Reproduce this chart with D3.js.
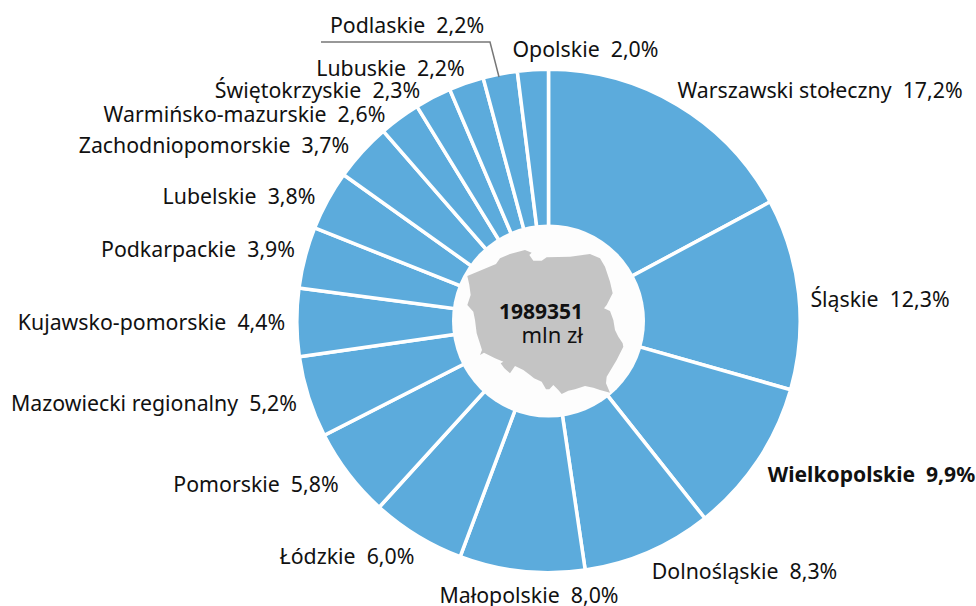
<!DOCTYPE html>
<html><head><meta charset="utf-8">
<script src="https://cdn.jsdelivr.net/npm/d3@7"></script>
<style>html,body{margin:0;padding:0;background:#fff}svg{display:block}text{font-family:"Noto Sans",sans-serif;white-space:pre;fill:#111}</style>
</head><body><div id="c"></div>
<script>
const regions=["Warszawski stołeczny","Śląskie","Wielkopolskie","Dolnośląskie","Małopolskie","Łódzkie","Pomorskie","Mazowiecki regionalny","Kujawsko-pomorskie","Podkarpackie","Lubelskie","Zachodniopomorskie","Warmińsko-mazurskie","Świętokrzyskie","Lubuskie","Podlaskie","Opolskie"];
const shares=[17.16,12.26,9.94,8.34,8.04,6.04,5.76,5.24,4.36,3.94,3.84,3.74,2.64,2.34,2.24,2.2,1.98];
const highlighted=["Wielkopolskie"];
const total="1989351", unit="mln zł";
const labelCenterX=[820,880,871.5,744.5,529,347,256,154,151.5,198,239,214,244.5,317.5,390.5,407,585.5];
const labelCenterY=[90,299,474,571,595,556,484,403,322,249,196,145,114,90,68,25,49];
const polandOutline=[[82,138],[125,120],[168,102],[180,85],[210,72],[255,60],[275,68],[268,75],[280,92],[305,92],[320,82],[390,80],[450,72],[480,85],[495,110],[510,155],[518,190],[500,225],[492,235],[510,243],[520,270],[525,300],[535,320],[548,340],[550,350],[530,390],[500,440],[498,460],[510,488],[480,480],[460,473],[435,468],[405,478],[385,482],[365,492],[355,480],[340,465],[328,478],[318,478],[305,455],[282,445],[270,435],[250,420],[225,408],[210,430],[193,415],[182,400],[190,395],[165,385],[132,368],[120,375],[126,360],[110,310],[105,270],[100,245],[82,225],[92,195],[88,165]];

const W=976,H=606,cx=548.5,cy=321,R=251.7,r=96.5;
const svg=d3.select("#c").append("svg").attr("width",W).attr("height",H);
const pie=d3.pie().sort(null).value(d=>d)(shares);
const arc=d3.arc().innerRadius(r-10).outerRadius(R);
const g=svg.append("g").attr("transform",`translate(${cx},${cy})`);
g.selectAll("path").data(pie).join("path").attr("d",arc).attr("fill","#5cabdc").attr("stroke","#fff").attr("stroke-width",3.5);
g.append("circle").attr("r",r).attr("fill","#fdfdfd");
const mx=d3.scaleLinear().domain([0,660]).range([440,660]);
const my=d3.scaleLinear().domain([0,570]).range([230,420]);
svg.append("path").attr("d",d3.line().x(d=>mx(d[0])).y(d=>my(d[1])).curve(d3.curveLinearClosed)(polandOutline)).attr("fill","#c4c4c4");
svg.append("text").attr("x",583).attr("y",319).attr("text-anchor","end").attr("font-size",21).attr("font-weight",700).text(total);
svg.append("text").attr("x",583).attr("y",343).attr("text-anchor","end").attr("font-size",22).text(unit);
svg.append("path").attr("d",d3.line()([[321,42],[490,42],[499,77]])).attr("fill","none").attr("stroke","#777").attr("stroke-width",1.5);
svg.selectAll("text.l").data(regions).join("text").attr("class","l")
 .attr("x",(d,i)=>labelCenterX[i]).attr("y",(d,i)=>labelCenterY[i]+8)
 .attr("text-anchor","middle").attr("font-size",d=>highlighted.includes(d)?21.1:21.3)
 .attr("font-weight",d=>highlighted.includes(d)?700:400)
 .text((d,i)=>`${d}  ${d3.format(".1f")(shares[i]).replace(".",",")}%`);
</script></body></html>
